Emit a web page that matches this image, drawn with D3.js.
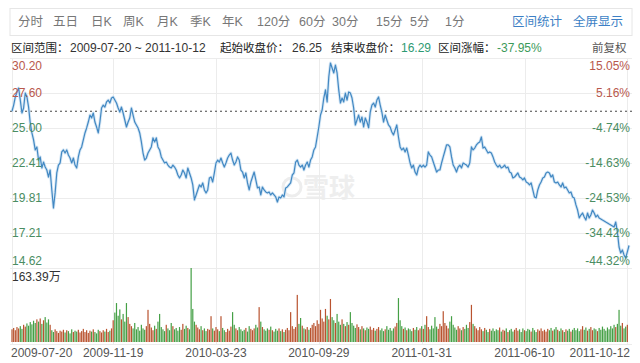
<!DOCTYPE html>
<html><head><meta charset="utf-8">
<script src="https://cdn.jsdelivr.net/npm/d3@7"></script>
<style>
html,body{margin:0;padding:0;background:#fff;}
svg{display:block;font-family:"Liberation Sans","Noto Sans CJK SC",Arial,sans-serif;}
</style></head>
<body>
<svg id="chart" width="640" height="363"></svg>
<script>
// ---- data ----
const tabs = ["分时","五日","日K","周K","月K","季K","年K","120分","60分","30分","15分","5分","1分"];
const links = ["区间统计","全屏显示"];
const rangeStart = "2009-07-20", rangeEnd = "2011-10-12";
const startClose = 26.25, endClose = 16.29, changePct = "-37.95%";
const priceTicks = [30.20, 27.60, 25.00, 22.41, 19.81, 17.21, 14.62];
const pctLabels = ["15.05%","5.16%","-4.74%","-14.63%","-24.53%","-34.42%","-44.32%"];
const volMaxLabel = "163.39万";
const volMax = 163.39;
const dateTickIdx = [0, 61, 123, 185, 247, 309, 371];
const dateTickLabels = ["2009-07-20","2009-11-19","2010-03-23","2010-09-29","2011-01-31","2011-06-10","2011-10-12"];

const closes = [
26.25,26.71,27.31,27.68,27.97,27.08,26.12,26.49,27.60,27.31,26.56,25.38,24.64,24.12,23.38,23.60,22.63,22.86,
22.04,22.48,22.11,21.89,21.37,21.89,20.41,19.07,20.19,21.67,22.26,22.41,23.23,23.38,23.15,23.38,23.00,22.78,22.41,22.78,22.26,22.04,22.86,23.38,
23.60,24.12,24.64,25.01,25.45,25.97,25.75,26.12,25.45,25.08,24.64,25.45,26.49,26.71,26.56,26.94,27.08,26.86,27.23,27.31,27.08,26.86,26.49,26.19,26.56,26.12,25.60,25.08,25.45,25.75,26.49,25.97,25.45,25.23,25.01,24.64,23.97,23.15,22.63,22.78,23.15,23.38,23.60,24.27,23.97,24.27,23.60,23.38,22.86,22.63,22.41,22.48,22.26,22.11,22.04,22.26,22.11,21.89,21.52,21.30,21.52,21.89,21.67,21.30,22.04,21.67,21.30,
20.78,19.67,20.04,20.41,20.78,
20.63,20.93,20.41,20.19,20.41,21.30,21.37,21.00,21.67,22.41,22.63,22.48,22.78,22.41,22.11,22.41,22.78,23.00,23.15,22.63,22.26,22.48,22.86,22.63,21.89,21.74,21.30,21.67,20.93,20.41,21.00,21.37,21.74,21.15,20.56,20.63,20.04,20.63,20.41,20.26,20.19,20.26,20.04,20.19,20.04,19.89,19.52,19.89,19.81,20.04,19.89,20.56,20.63,20.78,20.93,21.52,21.67,22.48,22.63,22.26,22.11,22.26,21.89,22.26,22.48,22.11,22.63,22.86,23.38,23.60,24.34,25.08,25.97,26.34,27.23,27.83,26.94,28.79,29.83,29.46,29.09,29.68,29.09,27.83,26.86,27.23,26.94,27.60,27.08,27.68,27.60,27.23,26.49,25.23,25.60,25.97,25.45,25.82,25.08,25.75,25.45,25.01,26.19,26.71,26.86,26.56,27.08,27.31,26.71,26.19,25.45,25.97,25.60,25.23,25.08,24.71,24.49,24.86,25.23,24.34,23.60,23.38,23.52,23.23,23.52,23.00,22.41,22.04,22.26,21.74,21.52,22.04,22.26,
22.11,22.26,22.11,22.26,23.23,23.00,22.86,22.48,22.11,21.74,21.89,21.89,22.41,22.86,23.30,23.75,23.75,23.60,22.86,22.26,22.04,21.74,22.11,22.26,22.04,22.41,22.33,22.26,22.11,22.41,
23.60,23.38,23.52,23.75,23.89,23.97,24.34,23.52,23.60,23.38,23.15,23.23,23.15,22.86,22.48,22.26,22.11,22.26,22.04,22.11,22.26,22.04,22.11,21.74,21.67,21.30,21.37,21.52,21.67,21.37,21.30,21.15,21.30,21.00,20.93,20.78,20.93,20.41,19.89,19.81,20.41,20.78,21.00,21.30,21.37,21.67,21.74,21.67,21.37,21.52,21.00,20.93,21.00,20.78,20.63,20.93,20.56,20.63,20.41,20.19,20.26,19.89,19.81,
19.30,18.92,18.33,18.55,18.70,18.40,18.18,18.70,18.33,18.55,18.92,18.70,18.40,18.55,18.33,18.26,18.18,18.11,18.03,17.96,17.88,17.81,17.74,17.66,18.03,17.29,16.18,15.73,15.96,15.59,15.36,15.81,16.29
];

const volumes = [
28,31,26,33,30,35,29,38,34,41,36,44,39,47,42,50,45,52,40,48,
55,43,50,38,26,22,28,24,20,25,23,27,21,26,24,19,28,22,25,23,
27,21,24,29,22,26,20,25,23,28,22,19,27,24,21,26,23,29,22,25,
30,48,65,86,58,72,50,62,45,86,55,40,35,30,42,28,33,25,38,30,
27,35,71,40,32,26,36,29,45,62,33,28,24,38,30,26,42,35,28,31,
25,33,27,40,29,36,31,28,163.39,73,45,38,32,28,35,26,30,24,29,27,
57,30,25,33,28,24,57,31,26,22,29,25,34,66,38,30,26,33,28,24,
27,31,23,35,29,26,30,38,32,77,45,33,28,25,30,27,34,26,23,29,
25,30,24,28,22,27,31,26,66,35,29,33,104,40,53,36,30,28,33,27,
31,38,42,35,48,40,71,52,45,73,58,50,95,55,48,42,62,45,38,50,
40,35,44,38,66,42,36,31,39,33,28,35,30,26,32,29,34,27,31,25,
29,33,26,30,24,28,35,27,31,25,30,34,42,97,48,35,29,32,26,30,
28,24,31,27,33,26,30,35,29,38,57,33,28,36,30,55,34,29,40,35,
68,42,36,30,45,57,38,32,27,35,30,26,33,29,38,31,44,82,40,35,
30,26,33,28,24,31,27,22,29,25,30,24,28,26,32,23,27,25,30,22,
26,29,23,27,31,25,28,22,30,26,24,29,27,23,31,26,22,28,25,30,
24,27,23,29,26,31,25,28,33,27,24,30,26,22,28,25,29,23,27,31,
26,30,24,28,35,27,32,25,29,33,26,30,28,24,31,27,34,29,25,32,
28,35,30,38,33,40,71,36,42,30,34,38
];

// ---- layout ----
const svg = d3.select("#chart");
const L = 10, R = 632;
const n = closes.length;
const x = d3.scaleLinear().domain([0, n - 1]).range([12, 629]);
const y = d3.scaleLinear().domain([priceTicks[priceTicks.length-1], priceTicks[0]]).range([268, 58]);
const yv = d3.scaleLinear().domain([0, volMax]).range([342, 268]);
const upC = "#b9532f", downC = "#45a046";
const redTxt = "#b8584c", greenTxt = "#4a8d62";

// header box
svg.append("rect").attr("x", L).attr("y", 8.5).attr("width", R - L).attr("height", 27)
  .attr("fill", "#fff").attr("stroke", "#e6e6e6");
const tabX = [18, 53, 91, 123, 157, 190, 222, 257, 299, 332, 376, 410, 445];
svg.selectAll("text.tab").data(tabs).join("text").attr("class","tab")
  .attr("x", (d,i) => tabX[i]).attr("y", 26).attr("font-size", 12.5).attr("fill", "#777").text(d => d);
const linkX = [512, 573];
svg.selectAll("text.link").data(links).join("text").attr("class","link")
  .attr("x", (d,i) => linkX[i]).attr("y", 26).attr("font-size", 12.5).attr("fill", "#3c7fc5").text(d => d);

// info row
const info = [
  {t:"区间范围：", x:11, c:"#222", s:11.5},
  {t:rangeStart + " ~ " + rangeEnd, x:70, c:"#333", s:12},
  {t:"起始收盘价：", x:220, c:"#222", s:11.5},
  {t:startClose.toFixed(2), x:292, c:"#333", s:12},
  {t:"结束收盘价：", x:331, c:"#222", s:11.5},
  {t:endClose.toFixed(2), x:401, c:"#2e9a72", s:12},
  {t:"区间涨幅：", x:438, c:"#222", s:11.5},
  {t:changePct, x:497, c:"#3c9a5a", s:12},
  {t:"前复权", x:592, c:"#555", s:11.5}
];
svg.selectAll("text.info").data(info).join("text").attr("class","info")
  .attr("x", d => d.x).attr("y", 52).attr("font-size", d => d.s).attr("fill", d => d.c)
  .text(d => d.t);

// grid
const g = svg.append("g");
g.selectAll("line.hg").data(priceTicks).join("line").attr("class","hg")
  .attr("x1", L).attr("x2", R).attr("y1", d => Math.round(y(d)) + 0.5).attr("y2", d => Math.round(y(d)) + 0.5)
  .attr("stroke", "#ececec");
g.selectAll("line.vg").data(dateTickIdx).join("line").attr("class","vg")
  .attr("x1", d => Math.round(x(d)) + 0.5).attr("x2", d => Math.round(x(d)) + 0.5)
  .attr("y1", 58).attr("y2", 344).attr("stroke", "#ececec");
g.append("line").attr("x1", L).attr("x2", R).attr("y1", 344.5).attr("y2", 344.5).attr("stroke", "#ececec");

// watermark logo
const wm = svg.append("g").attr("opacity", 0.9);
wm.append("circle").attr("cx", 292).attr("cy", 187).attr("r", 9).attr("fill", "none").attr("stroke", "#ececec").attr("stroke-width", 3);
wm.append("text").attr("x", 303).attr("y", 197).attr("font-size", 26).attr("fill", "#ededed")
  .attr("font-family", "Noto Sans CJK SC").attr("font-weight", "bold").text("雪球");

// start close dashed line
svg.append("line").attr("x1", L).attr("x2", R).attr("y1", y(startClose)).attr("y2", y(startClose))
  .attr("stroke", "#444").attr("stroke-dasharray", "2,3").attr("stroke-width", 1);

// volume bars
svg.selectAll("rect.vol").data(volumes).join("rect").attr("class","vol")
  .attr("x", (d,i) => x(i) - 0.6).attr("width", 1.2)
  .attr("y", d => yv(d)).attr("height", d => yv(0) - yv(d))
  .attr("fill", (d,i) => (i === 0 ? closes[0] >= startClose : closes[i] >= closes[i-1]) ? upC : downC);

// price line
const line = d3.line().x((d,i) => x(i)).y(d => y(d));
svg.append("path").datum(closes).attr("d", line).attr("fill", "none")
  .attr("stroke", "#d6e7f5").attr("stroke-width", 3).attr("stroke-linejoin", "round");
svg.append("path").datum(closes).attr("d", line).attr("fill", "none")
  .attr("stroke", "#4288c2").attr("stroke-width", 1.2).attr("stroke-linejoin", "round");

// axis labels
const last = priceTicks.length - 1;
const labY = (d,i) => y(d) + (i === 0 ? 8 : i === last ? -7 : 0);
svg.selectAll("text.pl").data(priceTicks).join("text").attr("class","pl")
  .attr("x", 12).attr("y", labY).attr("dy", "0.35em").attr("font-size", 12)
  .attr("fill", d => d > startClose ? redTxt : greenTxt).text(d => d.toFixed(2));
svg.selectAll("text.pr").data(pctLabels).join("text").attr("class","pr")
  .attr("x", 630).attr("y", (d,i) => labY(priceTicks[i], i)).attr("dy", "0.35em").attr("font-size", 12)
  .attr("text-anchor", "end").attr("fill", (d,i) => priceTicks[i] > startClose ? redTxt : greenTxt).text(d => d);

svg.append("text").attr("x", 12).attr("y", 277).attr("dy", "0.35em").attr("font-size", 12)
  .attr("fill", "#333").text(volMaxLabel);

svg.selectAll("text.xl").data(dateTickLabels).join("text").attr("class","xl")
  .attr("x", (d,i) => i === 0 ? 11 : i === dateTickLabels.length - 1 ? 630 : x(dateTickIdx[i]))
  .attr("y", 353).attr("dy", "0.35em").attr("font-size", 12).attr("fill", "#555")
  .attr("text-anchor", (d,i) => i === 0 ? "start" : i === dateTickLabels.length - 1 ? "end" : "middle")
  .text(d => d);
</script>
</body></html>
